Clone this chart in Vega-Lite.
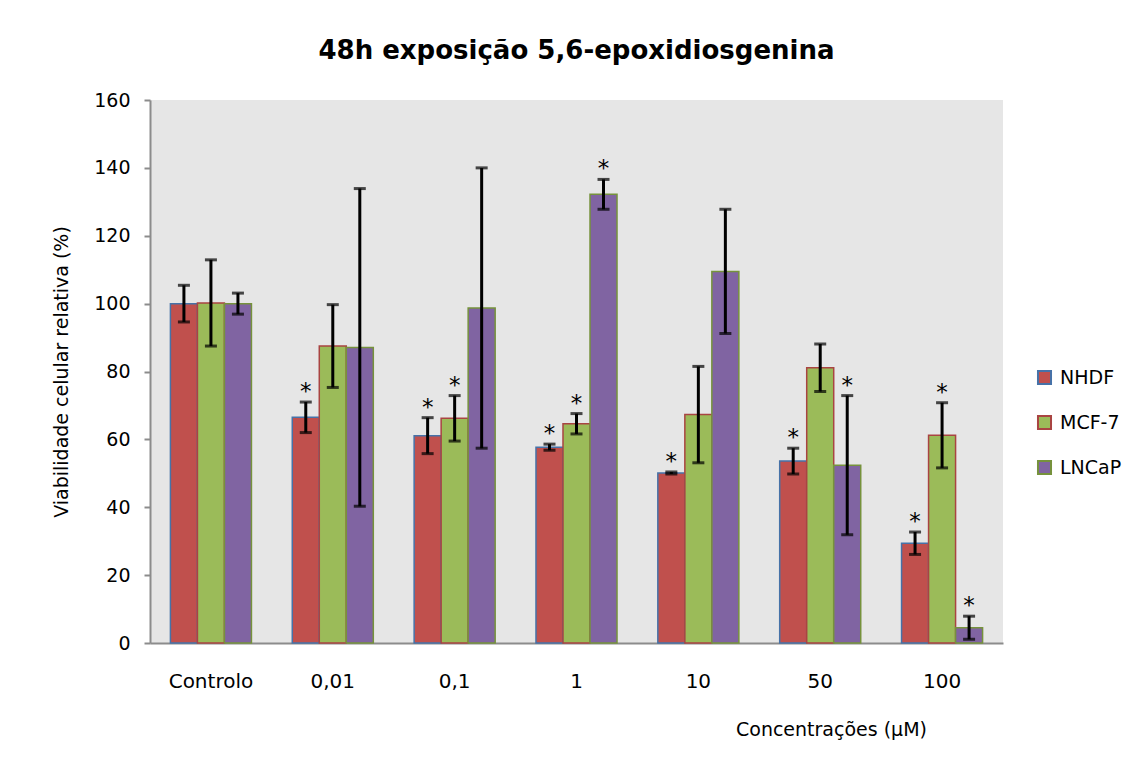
{
  "$schema": "https://vega.github.io/schema/vega-lite/v6.json",
  "width": 853,
  "height": 543,
  "autosize": {"type": "none"},
  "padding": {"left": 150, "top": 100, "right": 136, "bottom": 126},
  "background": "white",
  "title": {
    "text": "48h exposição 5,6-epoxidiosgenina",
    "font": "DejaVu Sans",
    "fontSize": 26,
    "fontWeight": "bold",
    "color": "black",
    "anchor": "middle",
    "offset": 27
  },
  "config": {
    "view": {"fill": "#e6e6e6", "stroke": null},
    "font": "DejaVu Sans"
  },
  "data": {
    "values": [
      {"conc": "Controlo", "series": "NHDF", "value": 100, "lo": 94.6, "hi": 105.4, "star": ""},
      {"conc": "Controlo", "series": "MCF-7", "value": 100.2, "lo": 87.5, "hi": 112.9, "star": ""},
      {"conc": "Controlo", "series": "LNCaP", "value": 100, "lo": 96.9, "hi": 103.1, "star": ""},
      {"conc": "0,01", "series": "NHDF", "value": 66.5, "lo": 62.0, "hi": 71.0, "star": "*"},
      {"conc": "0,01", "series": "MCF-7", "value": 87.5, "lo": 75.3, "hi": 99.7, "star": ""},
      {"conc": "0,01", "series": "LNCaP", "value": 87.1, "lo": 40.3, "hi": 133.9, "star": ""},
      {"conc": "0,1", "series": "NHDF", "value": 61.1, "lo": 55.8, "hi": 66.4, "star": "*"},
      {"conc": "0,1", "series": "MCF-7", "value": 66.2, "lo": 59.5, "hi": 72.9, "star": "*"},
      {"conc": "0,1", "series": "LNCaP", "value": 98.7, "lo": 57.4, "hi": 140.0, "star": ""},
      {"conc": "1", "series": "NHDF", "value": 57.7, "lo": 56.8, "hi": 58.6, "star": "*"},
      {"conc": "1", "series": "MCF-7", "value": 64.6, "lo": 61.6, "hi": 67.6, "star": "*"},
      {"conc": "1", "series": "LNCaP", "value": 132.2, "lo": 127.8, "hi": 136.6, "star": "*"},
      {"conc": "10", "series": "NHDF", "value": 50.1, "lo": 49.8, "hi": 50.4, "star": "*"},
      {"conc": "10", "series": "MCF-7", "value": 67.3, "lo": 53.1, "hi": 81.5, "star": ""},
      {"conc": "10", "series": "LNCaP", "value": 109.5, "lo": 91.2, "hi": 127.8, "star": ""},
      {"conc": "50", "series": "NHDF", "value": 53.6, "lo": 49.8, "hi": 57.4, "star": "*"},
      {"conc": "50", "series": "MCF-7", "value": 81.1, "lo": 74.1, "hi": 88.1, "star": ""},
      {"conc": "50", "series": "LNCaP", "value": 52.4, "lo": 31.9, "hi": 72.9, "star": "*"},
      {"conc": "100", "series": "NHDF", "value": 29.4, "lo": 26.1, "hi": 32.7, "star": "*"},
      {"conc": "100", "series": "MCF-7", "value": 61.2, "lo": 51.6, "hi": 70.8, "star": "*"},
      {"conc": "100", "series": "LNCaP", "value": 4.5, "lo": 1.1, "hi": 7.9, "star": "*"}
    ]
  },
  "encoding": {
    "x": {
      "field": "conc",
      "type": "nominal",
      "sort": ["Controlo", "0,01", "0,1", "1", "10", "50", "100"],
      "scale": {"paddingInner": 0.335, "paddingOuter": 0.1675},
      "axis": {
        "title": "Concentrações (µM)",
        "titleFont": "DejaVu Sans",
        "titleFontSize": 19,
        "titleFontWeight": "normal",
        "titleColor": "black",
        "titleX": 681,
        "titleY": 86,
        "titleBaseline": "middle",
        "titleAlign": "center",
        "labelAngle": 0,
        "labelFont": "DejaVu Sans",
        "labelFontSize": 20,
        "labelColor": "black",
        "labelPadding": 28,
        "ticks": false,
        "domainColor": "#8c8c8c",
        "domainWidth": 2
      }
    },
    "xOffset": {
      "field": "series",
      "type": "nominal",
      "sort": ["NHDF", "MCF-7", "LNCaP"],
      "scale": {"paddingInner": 0, "paddingOuter": 0}
    }
  },
  "layer": [
    {
      "mark": {"type": "bar", "strokeWidth": 1.5},
      "encoding": {
        "y": {
          "field": "value",
          "type": "quantitative",
          "scale": {"domain": [0, 160], "nice": false},
          "axis": {
            "values": [0, 20, 40, 60, 80, 100, 120, 140, 160],
            "grid": false,
            "title": "Viabilidade celular relativa (%)",
            "titleFont": "DejaVu Sans",
            "titleFontSize": 19,
            "titleFontWeight": "normal",
            "titleColor": "black",
            "titlePadding": 22,
            "labelFont": "DejaVu Sans",
            "labelFontSize": 19,
            "labelColor": "black",
            "labelPadding": 14,
            "tickSize": 6,
            "tickColor": "#8c8c8c",
            "tickWidth": 2,
            "domainColor": "#8c8c8c",
            "domainWidth": 2
          }
        },
        "fill": {
          "field": "series",
          "type": "nominal",
          "sort": ["NHDF", "MCF-7", "LNCaP"],
          "scale": {"domain": ["NHDF", "MCF-7", "LNCaP"], "range": ["#C0504D", "#9BBB59", "#8064A2"]},
          "legend": {
            "title": null,
            "orient": "none",
            "legendX": 885,
            "legendY": 268,
            "symbolType": "square",
            "symbolSize": 170,
            "symbolStrokeWidth": 2,
            "labelFont": "DejaVu Sans",
            "labelFontSize": 19,
            "labelColor": "black",
            "rowPadding": 22,
            "labelOffset": 6
          }
        },
        "stroke": {
          "field": "series",
          "type": "nominal",
          "sort": ["NHDF", "MCF-7", "LNCaP"],
          "scale": {"domain": ["NHDF", "MCF-7", "LNCaP"], "range": ["#4672a8", "#a94442", "#76923c"]},
          "legend": {
            "title": null,
            "orient": "none",
            "legendX": 885,
            "legendY": 268,
            "symbolType": "square",
            "symbolSize": 170,
            "symbolStrokeWidth": 2,
            "labelFont": "DejaVu Sans",
            "labelFontSize": 19,
            "labelColor": "black",
            "rowPadding": 22,
            "labelOffset": 6
          }
        }
      }
    },
    {
      "mark": {"type": "rule", "color": "black", "strokeWidth": 3},
      "encoding": {
        "y": {"field": "lo", "type": "quantitative"},
        "y2": {"field": "hi"}
      }
    },
    {
      "mark": {"type": "tick", "color": "black", "size": 12, "thickness": 3},
      "encoding": {
        "y": {"field": "hi", "type": "quantitative"}
      }
    },
    {
      "mark": {"type": "tick", "color": "black", "size": 12, "thickness": 3},
      "encoding": {
        "y": {"field": "lo", "type": "quantitative"}
      }
    },
    {
      "mark": {"type": "text", "color": "black", "fontSize": 23, "baseline": "alphabetic", "dy": -3, "font": "DejaVu Sans"},
      "encoding": {
        "y": {"field": "hi", "type": "quantitative"},
        "text": {"field": "star"}
      }
    }
  ]
}
